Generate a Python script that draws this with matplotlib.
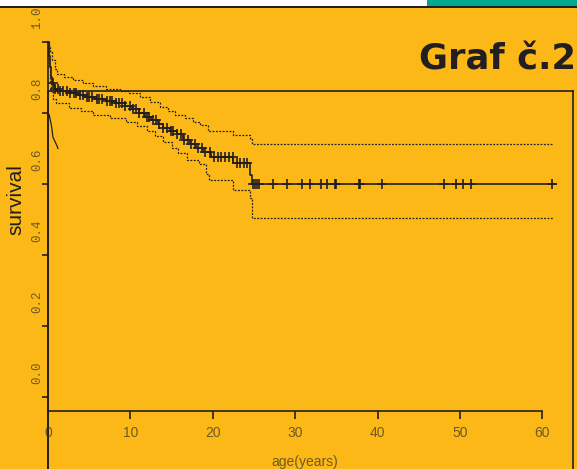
import numpy as np
import matplotlib
matplotlib.use("Agg")
import matplotlib.pyplot as plt
from matplotlib.patches import Rectangle
from matplotlib.transforms import ScaledTranslation

# Kaplan-Meier estimate (step function: time of drop, survival after drop)
km_time = [0, 0.1, 0.2, 0.35, 0.5, 0.7, 0.9, 1.5, 2.5, 3.5, 4.6, 5.8, 7.0, 8.2, 9.3,
           10.2, 11.0, 11.8, 12.5, 13.3, 14.0, 14.8, 15.6, 16.4, 17.2, 18.0, 18.8,
           19.8, 22.5, 24.5, 24.8, 61.7]
km_surv = [1.0, 0.96, 0.93, 0.90, 0.885, 0.875, 0.868, 0.862, 0.856, 0.850, 0.845, 0.840,
           0.835, 0.828, 0.820, 0.812, 0.800, 0.790, 0.780, 0.768, 0.758, 0.748, 0.740,
           0.725, 0.714, 0.700, 0.690, 0.677, 0.658, 0.625, 0.600, 0.600]

upper_time = [0, 0.1, 0.25, 0.5, 0.8, 1.1, 2.0, 3.0, 4.3, 5.5, 7.0, 8.7, 9.8, 11.2, 12.4,
              13.6, 14.6, 15.4, 16.6, 17.6, 18.4, 19.4, 22.5, 24.5, 24.8, 61.3]
upper_surv = [1.0, 0.99, 0.975, 0.95, 0.925, 0.91, 0.90, 0.893, 0.885, 0.876, 0.869, 0.862,
              0.855, 0.845, 0.832, 0.818, 0.806, 0.795, 0.785, 0.775, 0.766, 0.750, 0.738,
              0.727, 0.713, 0.713]

lower_time = [0, 0.1, 0.2, 0.35, 0.6, 1.0, 2.5, 4.0, 5.5, 7.5, 9.5, 10.8, 12.0, 13.0, 14.0,
              15.0, 15.8, 16.9, 18.3, 19.2, 19.5, 22.5, 24.5, 24.8, 61.3]
lower_surv = [1.0, 0.93, 0.89, 0.86, 0.84, 0.828, 0.814, 0.805, 0.795, 0.785, 0.775, 0.762,
              0.750, 0.735, 0.718, 0.700, 0.687, 0.668, 0.655, 0.628, 0.611, 0.583, 0.560,
              0.504, 0.504]

# stray short curve near the axis
ghost_time = [0, 0.16, 0.45, 0.6, 1.1, 1.2]
ghost_surv = [0.80, 0.794, 0.76, 0.732, 0.707, 0.70]

# censored observations (times)
censor_time = [0.6, 0.9, 1.2, 1.5, 1.8, 2.3, 2.7, 3.1, 3.4, 3.9, 4.3, 4.7, 5.0, 5.4, 5.9,
               6.2, 6.6, 7.1, 7.5, 7.8, 8.3, 8.6, 9.0, 9.4, 9.9, 10.3, 10.7, 11.1, 11.6,
               12.0, 12.3, 12.8, 13.1, 13.5, 14.0, 14.4, 14.9, 15.2, 15.7, 16.1, 16.5,
               17.0, 17.4, 17.8, 18.2, 18.7, 19.1, 19.6, 20.2, 20.6, 21.0, 21.5, 22.0,
               22.4, 22.9, 23.3, 23.8, 24.2, 24.9, 25.1, 25.4, 25.6, 27.3, 29.0, 30.8,
               31.8, 33.1, 33.9, 34.8, 35.0, 37.7, 37.9, 40.5, 48.1, 49.5, 50.4, 51.3, 61.2]

x_ticks = [0, 10, 20, 30, 40, 50, 60]
y_ticks = [0.0, 0.2, 0.4, 0.6, 0.8, 1.0]

BG = "#fbb817"
INK = "#231f20"
OLIVE = "#6e5a22"

W, H = 577, 469
fig = plt.figure(figsize=(W / 100, H / 100), dpi=100, facecolor=BG)

# top strip
fig.patches.append(Rectangle((0, 1 - 6 / H), 1, 6 / H, transform=fig.transFigure,
                             facecolor="white", edgecolor="none"))
fig.patches.append(Rectangle((427 / W, 1 - 6 / H), 150 / W, 6 / H, transform=fig.transFigure,
                             facecolor="#00a88e", edgecolor="none"))
fig.patches.append(Rectangle((0, 1 - 8.5 / H), 1, 2.5 / H, transform=fig.transFigure,
                             facecolor=INK, edgecolor="none"))

# frame box (top/right)
box = fig.add_axes([48 / W, 0, (573 - 48) / W, (H - 91) / H])
box.set_facecolor("none")
box.set_xticks([])
box.set_yticks([])
box.spines["bottom"].set_visible(False)
for s in ["top", "left", "right"]:
    box.spines[s].set_color(INK)
    box.spines[s].set_linewidth(1.2)

# main plot axes: x 0 at 48px, 8.24 px/yr; y 1.0 at 42px, 0.0 at 397px
ax = fig.add_axes([48 / W, 0, (573 - 48) / W, (H - 42) / H])
ax.set_facecolor("none")
ax.set_xlim(0, (573 - 48) / 8.24)
ax.set_ylim((397 - H) / 355, 1.0)

ax.step(upper_time, upper_surv, where="post", color=INK, lw=0.9,
        linestyle=(0, (1.5, 1.2)), clip_on=False)
ax.step(lower_time, lower_surv, where="post", color=INK, lw=0.9,
        linestyle=(0, (1.5, 1.2)), clip_on=False)
ax.step(km_time, km_surv, where="post", color=INK, lw=1.2, clip_on=False)
ax.plot(ghost_time, ghost_surv, color=INK, lw=0.9, clip_on=False)

idx = np.searchsorted(km_time, censor_time, side="right") - 1
censor_surv = np.array(km_surv)[idx]
ax.plot(censor_time, censor_surv, linestyle="none", marker="+", ms=7.5, mew=1.2,
        color=INK, clip_on=False)

# axes styling
for s in ["top", "right"]:
    ax.spines[s].set_visible(False)
ax.spines["left"].set_color(INK)
ax.spines["left"].set_linewidth(1.2)
ax.spines["bottom"].set_color(INK)
ax.spines["bottom"].set_linewidth(1.2)
ax.spines["bottom"].set_position(("data", (397 - 411) / 355))
ax.spines["bottom"].set_bounds(0, 60)

ax.set_xticks(x_ticks)
ax.set_xticklabels([str(v) for v in x_ticks], fontsize=10, color=OLIVE,
                   family="Liberation Sans")
ax.tick_params(axis="x", direction="out", length=6, width=1.2, color=INK, pad=5)

ax.set_yticks(y_ticks)
ax.set_yticklabels([f"{v:.1f}" for v in y_ticks], fontsize=9, color=OLIVE,
                   family="Liberation Mono", rotation=90, va="center")
ax.tick_params(axis="y", direction="out", length=4.5, width=1.2, color=INK, pad=-1)
shift = ScaledTranslation(0, 24 / 100, fig.dpi_scale_trans)
for lab in ax.get_yticklabels():
    lab.set_transform(lab.get_transform() + shift)

fig.text(305 / W, 1 - 462 / H, "age(years)", ha="center", va="center",
         fontsize=10, color=OLIVE, family="Liberation Sans")
fig.text(16 / W, 1 - 200 / H, "survival", ha="center", va="center", rotation=90,
         fontsize=15, color=INK, family="Liberation Sans")
fig.text(576 / W, 1 - 60 / H, "Graf č.2", ha="right", va="center",
         fontsize=25.5, color=INK, family="DejaVu Sans", fontweight="bold")

fig.savefig("out.png", dpi=100, facecolor=BG)
